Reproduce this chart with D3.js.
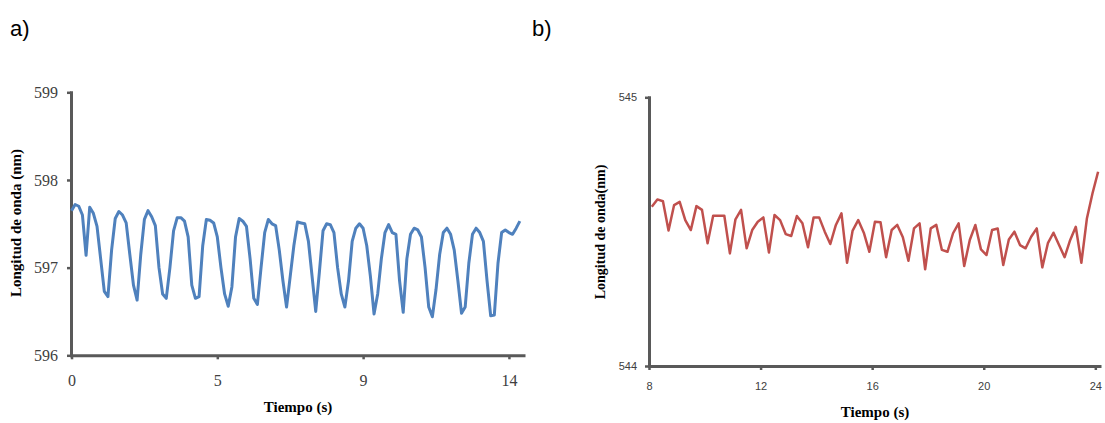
<!DOCTYPE html>
<html lang="es">
<head>
<meta charset="UTF-8">
<title>Longitud de onda vs tiempo</title>
<style>
  body, html { margin: 0; padding: 0; background: #fff; overflow: hidden; }
</style>
<script src="https://d3js.org/d3.v7.min.js"></script>
</head>
<body>
<svg id="chart" width="1105" height="423"></svg>
<script>
// panel a: one value per sample, ~14 s in 120 samples
const aValues = [
  597.65, 597.72, 597.70, 597.60, 597.14, 597.69, 597.62, 597.47, 597.10, 596.73,
  596.67, 597.20, 597.56, 597.64, 597.60, 597.51, 597.15, 596.80, 596.63, 597.15,
  597.55, 597.65, 597.58, 597.48, 597.00, 596.70, 596.65, 597.00, 597.42, 597.57,
  597.57, 597.53, 597.35, 596.80, 596.65, 596.67, 597.25, 597.55, 597.54, 597.51,
  597.35, 597.00, 596.70, 596.56, 596.78, 597.35, 597.56, 597.53, 597.47, 597.10,
  596.65, 596.58, 597.00, 597.40, 597.55, 597.50, 597.48, 597.20, 596.85, 596.55,
  596.90, 597.25, 597.52, 597.51, 597.50, 597.30, 596.90, 596.50, 596.95, 597.42,
  597.50, 597.49, 597.40, 597.00, 596.70, 596.55, 596.85, 597.30, 597.45, 597.50,
  597.45, 597.25, 596.90, 596.47, 596.70, 597.10, 597.40, 597.49, 597.40, 597.38,
  596.85, 596.49, 597.10, 597.38, 597.45, 597.43, 597.35, 597.00, 596.55, 596.44,
  596.75, 597.15, 597.40, 597.45, 597.38, 597.20, 596.85, 596.48, 596.55, 597.05,
  597.38, 597.45, 597.40, 597.30, 596.85, 596.45, 596.46, 597.05, 597.40, 597.43,
  597.40, 597.38, 597.45, 597.53
];
const aTickIndex = [0, 40, 80, 120];
const aTickLabels = ["0", "5", "9", "14"];
const aYTicks = [596, 597, 598, 599];

// panel b: samples every 0.2 s starting at 8.1 s
const bStart = 8.1, bStep = 0.2;
const bValues = [
  544.593, 544.620, 544.613, 544.504, 544.599, 544.611, 544.543, 544.506, 544.595, 544.581,
  544.457, 544.559, 544.559, 544.559, 544.419, 544.546, 544.581, 544.438, 544.506, 544.537,
  544.553, 544.422, 544.562, 544.543, 544.491, 544.484, 544.558, 544.531, 544.442, 544.553,
  544.553, 544.500, 544.454, 544.525, 544.568, 544.384, 544.504, 544.543, 544.496, 544.425,
  544.537, 544.535, 544.405, 544.506, 544.525, 544.479, 544.392, 544.512, 544.531, 544.360,
  544.512, 544.525, 544.432, 544.425, 544.494, 544.531, 544.372, 544.469, 544.525, 544.434,
  544.413, 544.506, 544.512, 544.376, 544.471, 544.500, 544.450, 544.438, 544.481, 544.512,
  544.367, 544.457, 544.496, 544.450, 544.405, 544.469, 544.518, 544.384, 544.550, 544.643,
  544.723
];
const bXTicks = [8, 12, 16, 20, 24];
const bYTicks = [544, 545];

const SERIF = '"Liberation Serif", "Times New Roman", serif';
const SANS = '"Liberation Sans", Arial, sans-serif';
const AXIS = "#595959";

const svg = d3.select("#chart");

// give an axis group the Excel look: thick grey spine, short ticks
function styleAxis(g, font, size) {
  g.select(".domain").style("stroke", AXIS).style("stroke-width", "3px")
    .style("stroke-linecap", "square");
  g.selectAll(".tick line").style("stroke", AXIS).style("stroke-width", "2.5px");
  g.selectAll("text").style("font-family", font).style("font-size", size + "px")
    .style("fill", "#404040");
}

// ---- panel a ----
const xa = d3.scaleLinear().domain([0, 124]).range([71.5, 523.5]);
const ya = d3.scaleLinear().domain([596, 599]).range([355.3, 92.3]);

const gaX = svg.append("g")
  .attr("transform", "translate(0,355.3)")
  .call(d3.axisBottom(xa).tickValues(aTickIndex)
    .tickFormat((d, i) => aTickLabels[i]).tickSize(4).tickSizeOuter(0).tickPadding(15));
const gaY = svg.append("g")
  .attr("transform", "translate(71,0)")
  .call(d3.axisLeft(ya).tickValues(aYTicks).tickFormat(d3.format("d"))
    .tickSize(4).tickSizeOuter(0).tickPadding(9));
styleAxis(gaX, SERIF, 16);
styleAxis(gaY, SERIF, 16);

svg.append("path")
  .datum(aValues)
  .attr("fill", "none")
  .attr("stroke", "#4F81BD")
  .attr("stroke-width", 3)
  .attr("stroke-linejoin", "round")
  .attr("d", d3.line().x((d, i) => xa(i)).y(d => ya(d)));

svg.append("text")
  .attr("x", 298).attr("y", 412).attr("text-anchor", "middle")
  .style("font-family", SERIF).style("font-size", "15px").style("font-weight", "bold")
  .style("fill", "#000")
  .text("Tiempo (s)");
svg.append("text")
  .attr("transform", "translate(21,223) rotate(-90)").attr("text-anchor", "middle")
  .style("font-family", SERIF).style("font-size", "15px").style("font-weight", "bold")
  .style("fill", "#000")
  .text("Longitud de onda (nm)");

// ---- panel b ----
const xb = d3.scaleLinear().domain([8, 24.15]).range([649, 1099.5]);
const yb = d3.scaleLinear().domain([544, 545]).range([366, 97.3]);

const gbX = svg.append("g")
  .attr("transform", "translate(0,366)")
  .call(d3.axisBottom(xb).tickValues(bXTicks).tickFormat(d3.format("d"))
    .tickSize(4).tickSizeOuter(0).tickPadding(12));
const gbY = svg.append("g")
  .attr("transform", "translate(649,0)")
  .call(d3.axisLeft(yb).tickValues(bYTicks).tickFormat(d3.format("d"))
    .tickSize(4).tickSizeOuter(0).tickPadding(8));
styleAxis(gbX, SANS, 11);
styleAxis(gbY, SANS, 11);

svg.append("path")
  .datum(bValues)
  .attr("fill", "none")
  .attr("stroke", "#C0504D")
  .attr("stroke-width", 2.5)
  .attr("stroke-linejoin", "round")
  .attr("d", d3.line().x((d, i) => xb(bStart + bStep * i)).y(d => yb(d)));

svg.append("text")
  .attr("x", 875).attr("y", 417).attr("text-anchor", "middle")
  .style("font-family", SERIF).style("font-size", "15px").style("font-weight", "bold")
  .style("fill", "#000")
  .text("Tiempo (s)");
svg.append("text")
  .attr("transform", "translate(605,232) rotate(-90)").attr("text-anchor", "middle")
  .style("font-family", SERIF).style("font-size", "14px").style("font-weight", "bold")
  .style("fill", "#000")
  .text("Longitud de onda(nm)");

// panel letters
svg.append("text").attr("x", 10).attr("y", 36)
  .style("font-family", SANS).style("font-size", "22px").style("fill", "#000").text("a)");
svg.append("text").attr("x", 532).attr("y", 36)
  .style("font-family", SANS).style("font-size", "22px").style("fill", "#000").text("b)");
</script>
</body>
</html>
